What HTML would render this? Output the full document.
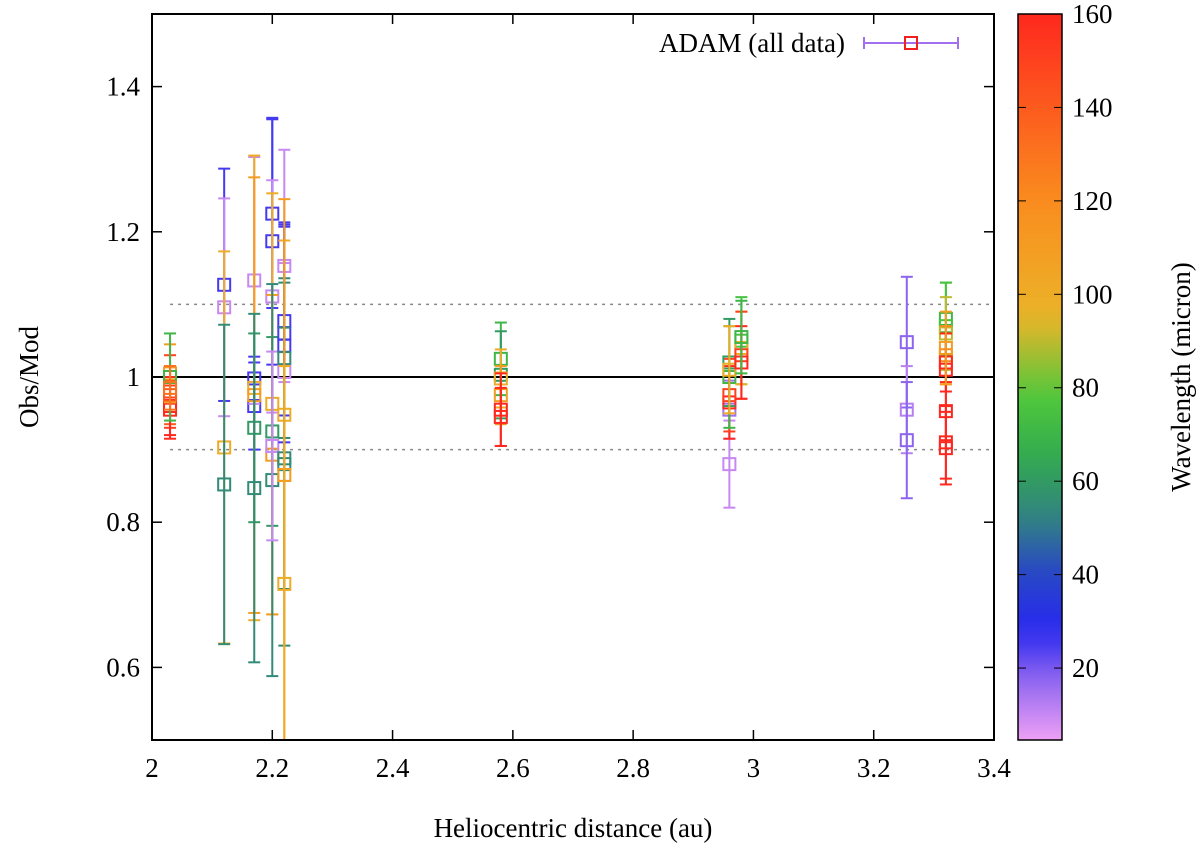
<!DOCTYPE html>
<html><head><meta charset="utf-8"><style>
body{margin:0;background:#fff}
svg{display:block;font-family:"Liberation Serif",serif}
</style></head><body>
<svg id="chart" width="1200" height="846" xmlns="http://www.w3.org/2000/svg"></svg>
<script>
const xVals=[2.03,2.03,2.03,2.03,2.03,2.03,2.03,2.12,2.12,2.12,2.12,2.17,2.17,2.17,2.17,2.17,2.17,2.17,2.2,2.2,2.2,2.2,2.2,2.2,2.2,2.2,2.22,2.22,2.22,2.22,2.22,2.22,2.22,2.22,2.22,2.22,2.22,2.58,2.58,2.58,2.58,2.58,2.58,2.96,2.96,2.96,2.96,2.96,2.96,2.96,2.98,2.98,2.98,2.98,2.98,3.255,3.255,3.255,3.32,3.32,3.32,3.32,3.32,3.32,3.32,3.32,3.32,3.32];
const yVals=[0.96,0.98,0.975,0.955,1.005,1.0,0.985,1.127,1.096,0.903,0.852,0.998,0.96,1.133,0.985,0.975,0.93,0.847,1.225,1.187,1.111,0.963,0.925,0.893,0.858,0.905,1.153,1.077,1.06,1.043,1.026,1.007,0.948,0.888,0.88,0.865,0.715,1.025,1.003,0.998,0.975,0.955,0.945,0.88,0.955,0.965,0.975,1.0,1.02,1.01,1.05,1.04,1.03,1.02,1.055,1.048,0.955,0.913,1.08,1.07,1.06,1.03,1.02,1.01,0.953,0.91,0.902,1.04];
const errVals=[0.04,0.05,0.04,0.04,0.04,0.06,0.03,0.16,0.15,0.27,0.22,0.03,0.06,0.17,0.32,0.3,0.13,0.24,0.13,0.17,0.16,0.29,0.13,0.22,0.27,0.13,0.16,0.13,0.15,0.17,0.11,0.15,0.24,0.18,0.25,0.38,0.3,0.05,0.06,0.04,0.04,0.05,0.04,0.06,0.04,0.05,0.05,0.07,0.06,0.06,0.06,0.05,0.06,0.05,0.05,0.09,0.06,0.08,0.05,0.06,0.05,0.04,0.04,0.05,0.04,0.05,0.05,0.05];
const wlVals=[160,150,140,160,110,70,130,25,10,100,55,25,25,10,100,110,60,55,25,25,10,100,60,110,55,10,10,25,25,25,55,10,100,55,55,110,100,70,60,100,110,160,160,10,15,160,150,70,60,100,75,100,150,160,70,18,12,18,70,75,90,120,160,160,160,160,160,110];
const xTicks=[2,2.2,2.4,2.6,2.8,3,3.2,3.4];
const yTicks=[0.6,0.8,1,1.2,1.4];
const cbTicks=[20,40,60,80,100,120,140,160];

const NS="http://www.w3.org/2000/svg";
const svg=document.getElementById('chart');
const L=152,R=994,T=14,B=740;
const sx=v=>L+(v-2)/1.4*(R-L);
const sy=v=>B-(v-0.5)/1.0*(B-T);
const CB0=4.6,CB1=160,cbT=14,cbB=740,cbL=1018,cbR=1062;
const scb=v=>cbB-(v-CB0)/(CB1-CB0)*(cbB-cbT);
const stops=[[4.6,[238,160,245]],[18,[140,100,240]],[28,[40,40,240]],[40,[40,70,200]],[52,[50,130,130]],[65,[50,170,80]],[78,[80,200,60]],[95,[235,180,40]],[120,[250,140,30]],[160,[255,40,30]]];
function col(w){for(let i=1;i<stops.length;i++){if(w<=stops[i][0]){const a=stops[i-1],b=stops[i],t=(w-a[0])/(b[0]-a[0]);return 'rgb('+a[1].map((c,k)=>Math.round(c+(b[1][k]-c)*t)).join(',')+')';}}return 'rgb(255,40,30)';}
function el(t,a,p){const e=document.createElementNS(NS,t);for(const k in a)e.setAttribute(k,a[k]);(p||svg).appendChild(e);return e;}

const defs=el('defs',{});
const cp=el('clipPath',{id:'clip'},defs);el('rect',{x:L,y:T,width:R-L,height:B-T},cp);
const grad=el('linearGradient',{id:'cbg',x1:0,y1:1,x2:0,y2:0},defs);
for(let i=0;i<=30;i++){const w=CB0+(CB1-CB0)*i/30;el('stop',{offset:i/30,'stop-color':col(w)},grad);}

const ref=el('g',{'clip-path':'url(#clip)'});

el('line',{x1:L,x2:R,y1:sy(1),y2:sy(1),stroke:'#000','stroke-width':2},ref);
[0.9,1.1].forEach(v=>el('line',{x1:sx(2.03),x2:R,y1:sy(v),y2:sy(v),stroke:'#888','stroke-width':1.5,'stroke-dasharray':'3,5'},ref));

const g=el('g',{'clip-path':'url(#clip)'});

for(let i=0;i<xVals.length;i++){
  const c=col(wlVals[i]),x=sx(xVals[i]),y=sy(yVals[i]),y1=sy(yVals[i]-errVals[i]),y2=sy(yVals[i]+errVals[i]);
  const p=el('g',{},g);
  
  
  el('line',{x1:x,x2:x,y1:y1,y2:y2,stroke:c,'stroke-width':2},p);
  el('line',{x1:x-6,x2:x+6,y1:y1,y2:y1,stroke:c,'stroke-width':2},p);
  el('line',{x1:x-6,x2:x+6,y1:y2,y2:y2,stroke:c,'stroke-width':2},p);
  el('rect',{x:x-6,y:y-6,width:12,height:12,fill:'none',stroke:c,'stroke-width':2},p);
}

const fr=el('rect',{x:L,y:T,width:R-L,height:B-T,fill:'none',stroke:'#000','stroke-width':2});

xTicks.forEach(v=>{const x=sx(v);el('line',{x1:x,x2:x,y1:B,y2:B-10,stroke:'#000','stroke-width':1.5});el('line',{x1:x,x2:x,y1:T,y2:T+10,stroke:'#000','stroke-width':1.5});
 const t=el('text',{x:x,y:B+37,'text-anchor':'middle','font-size':27});t.textContent=String(v);
 });
yTicks.forEach(v=>{const y=sy(v);el('line',{x1:L,x2:L+10,y1:y,y2:y,stroke:'#000','stroke-width':1.5});el('line',{x1:R,x2:R-10,y1:y,y2:y,stroke:'#000','stroke-width':1.5});
 const t=el('text',{x:L-12,y:y+9,'text-anchor':'end','font-size':27});t.textContent=String(v);
 });

const xt=el('text',{x:(L+R)/2,y:837,'text-anchor':'middle','font-size':27});xt.textContent='Heliocentric distance (au)';

const yt=el('text',{x:0,y:0,'text-anchor':'middle','font-size':27,transform:'translate(38,377) rotate(-90)'});yt.textContent='Obs/Mod';


const lg=el('g',{});

const lt=el('text',{x:845,y:52,'text-anchor':'end','font-size':27},lg);lt.textContent='ADAM (all data)';
el('line',{x1:864,x2:958,y1:43,y2:43,stroke:'#a070f0','stroke-width':2},lg);
el('line',{x1:864,x2:864,y1:37,y2:49,stroke:'#a070f0','stroke-width':2},lg);
el('line',{x1:958,x2:958,y1:37,y2:49,stroke:'#a070f0','stroke-width':2},lg);
el('rect',{x:905,y:37,width:12,height:12,fill:'none',stroke:'#f02020','stroke-width':2},lg);

const cb=el('rect',{x:cbL,y:cbT,width:cbR-cbL,height:cbB-cbT,fill:'url(#cbg)',stroke:'#000','stroke-width':1.5});

cbTicks.forEach(v=>{const y=scb(v);el('line',{x1:cbL,x2:cbL+8,y1:y,y2:y,stroke:'#000'});el('line',{x1:cbR,x2:cbR-8,y1:y,y2:y,stroke:'#000'});
 const t=el('text',{x:cbR+10,y:y+9,'font-size':27});t.textContent=String(v);
 });
const ct=el('text',{x:0,y:0,'text-anchor':'middle','font-size':27,transform:'translate(1190,377) rotate(-90)'});ct.textContent='Wavelength (micron)';

</script>
</body></html>
